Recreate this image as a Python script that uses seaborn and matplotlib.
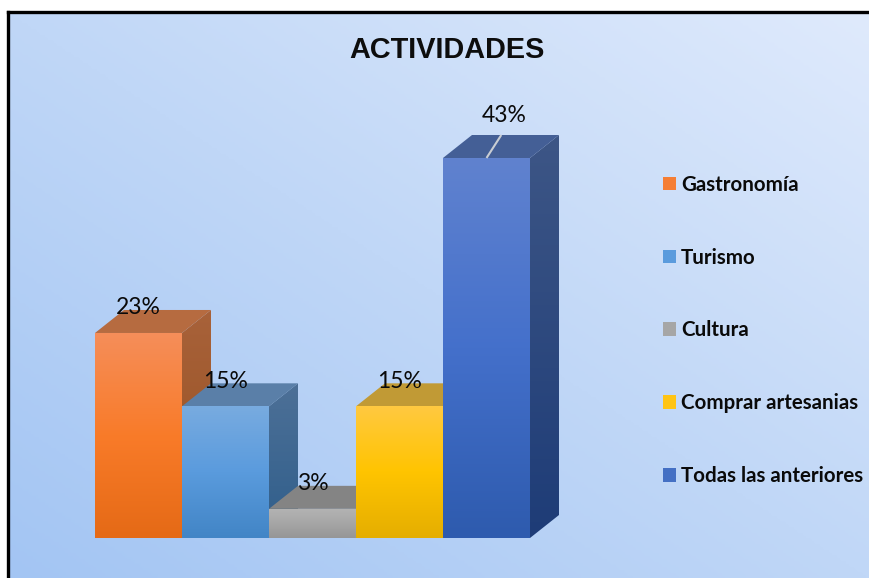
import numpy as np
import matplotlib
matplotlib.use("Agg")
import matplotlib.pyplot as plt
from matplotlib.colors import LinearSegmentedColormap, to_rgb
from matplotlib.patches import Patch, Polygon
import pandas as pd
import seaborn as sns

title = "ACTIVIDADES"
categories = ["Gastronomía", "Turismo", "Cultura", "Comprar artesanias", "Todas las anteriores"]
values = [23.2, 14.9, 3.3, 14.9, 43.0]
labels = ["23%", "15%", "3%", "15%", "43%"]

front_colors = [["#F58E5A", "#F97B29", "#E56A16"],
                ["#78ABE0", "#5A9BDD", "#4285C6"],
                ["#B4B4B4", "#A6A6A6", "#969696"],
                ["#FFC940", "#FFC400", "#E5AE00"],
                ["#6082CF", "#4470CB", "#2E5BAE"]]
top_colors = ["#B66B40", "#5A7FA8", "#848484", "#C19A35", "#445F96"]
side_colors = [["#A8623A", "#964F1F"], ["#4D7097", "#2F5E8B"], ["#767676", "#6A6A6A"],
               ["#A8862C", "#957010"], ["#3D5686", "#1E3C77"]]
legend_colors = ["#F57E35", "#5A9BDD", "#A6A6A6", "#FFC414", "#4470C4"]

W, H = 869, 578
sns.set_theme(style="white")
fig = plt.figure(figsize=(W / 100, H / 100), dpi=100, facecolor="white")

# Panel background with diagonal gradient
bg = fig.add_axes([8 / W, 0, (W - 8) / W, (H - 12) / H], zorder=0)
xx, yy = np.meshgrid(np.linspace(0, 1, 300), np.linspace(0, 1, 200))
t = (xx + yy) / 2
bg_cmap = LinearSegmentedColormap.from_list("bg", ["#A3C5F3", "#C0D7F7", "#DFEAFC"])
bg.imshow(t, origin="lower", cmap=bg_cmap, aspect="auto", extent=(0, 1, 0, 1), vmin=0, vmax=1)
bg.set_xticks([]); bg.set_yticks([])
for name, sp in bg.spines.items():
    sp.set_visible(name in ("top", "left"))
    sp.set_color("black"); sp.set_linewidth(2.4)

# Plot axes: categories on x, percentage on y
ax = fig.add_axes([95 / W, (H - 538) / H, 435 / W, 380 / H], zorder=1)
ax.patch.set_alpha(0)
df = pd.DataFrame({"cat": categories, "val": values})
sns.barplot(data=df, x="cat", y="val", hue="cat", palette=legend_colors, saturation=1,
            width=1.0, legend=False, linewidth=0, ax=ax)
ax.set_xlim(-0.5, 4.5)
ax.set_ylim(0, 43)
ax.axis("off")

px_x = 87.0          # px per category
px_y = 380 / 43      # px per percent
dx = 29 / px_x
dy = 23 / px_y


def gradient(poly, stops, z):
    xs, ys = zip(*poly)
    cmap = LinearSegmentedColormap.from_list("g", [to_rgb(c) for c in stops])
    im = ax.imshow(np.linspace(1, 0, 128)[:, None], cmap=cmap, aspect="auto", origin="lower",
                   extent=(min(xs), max(xs), min(ys), max(ys)), zorder=z, vmin=0, vmax=1)
    im.set_clip_path(Polygon(poly, closed=True, transform=ax.transData))
    im.set_clip_box(fig.bbox)
    return im


bars = list(ax.patches)
for i, bar in enumerate(bars):
    z = 2 + i * 3
    x0, w, h = bar.get_x(), bar.get_width(), bar.get_height()
    x1 = x0 + w
    side = [(x1, 0), (x1 + dx, dy), (x1 + dx, h + dy), (x1, h)]
    top = [(x0, h), (x0 + dx, h + dy), (x1 + dx, h + dy), (x1, h)]
    gradient(side, side_colors[i], z)
    ax.add_patch(Polygon(top, closed=True, facecolor=top_colors[i], edgecolor="none",
                         zorder=z + 0.5, clip_on=False))
    bar.set_zorder(z + 1)
    gradient(bar.get_corners().tolist(), front_colors[i], z + 1.5)
ax.set_xlim(-0.5, 4.5)
ax.set_ylim(0, 43)

# Data labels
top_i = int(np.argmax(values))
for i, bar in enumerate(bars):
    cx = bar.get_x() + bar.get_width() / 2
    h = bar.get_height()
    if i == top_i:
        ax.plot([cx, cx + 0.17], [h, h + dy], color="#C9CDD3", lw=1.5, zorder=40, clip_on=False,
                solid_capstyle="butt")
        off = (18 * 0.72, 42.5 * 0.72)
    else:
        off = (0, 25 * 0.72)
    ax.annotate(labels[i], (cx, h), xytext=off, textcoords="offset points", ha="center", va="center",
                fontsize=16.5, family="Lato", color="#0A0A0A", zorder=50, annotation_clip=False)

# Legend
handles = [Patch(facecolor=c, edgecolor="none", label=n) for c, n in zip(legend_colors, categories)]
leg = ax.legend(handles=handles, loc="center left", bbox_to_anchor=(663 / W, (H - 330.5) / H),
                bbox_transform=fig.transFigure, frameon=False,
                prop={"family": "Lato", "weight": "bold", "size": 14.8},
                labelspacing=2.57, handlelength=0.64, handleheight=0.64, handletextpad=0.24,
                borderpad=0, borderaxespad=0, labelcolor="#0A0A0A")
leg.set_zorder(60)

fig.text(446.5 / W, 1 - 50 / H, title, ha="center", va="center", fontsize=20.8,
         family="Liberation Sans", weight="bold", color="#0D0D0D")

fig.savefig("out.png", dpi=100, facecolor="white")
